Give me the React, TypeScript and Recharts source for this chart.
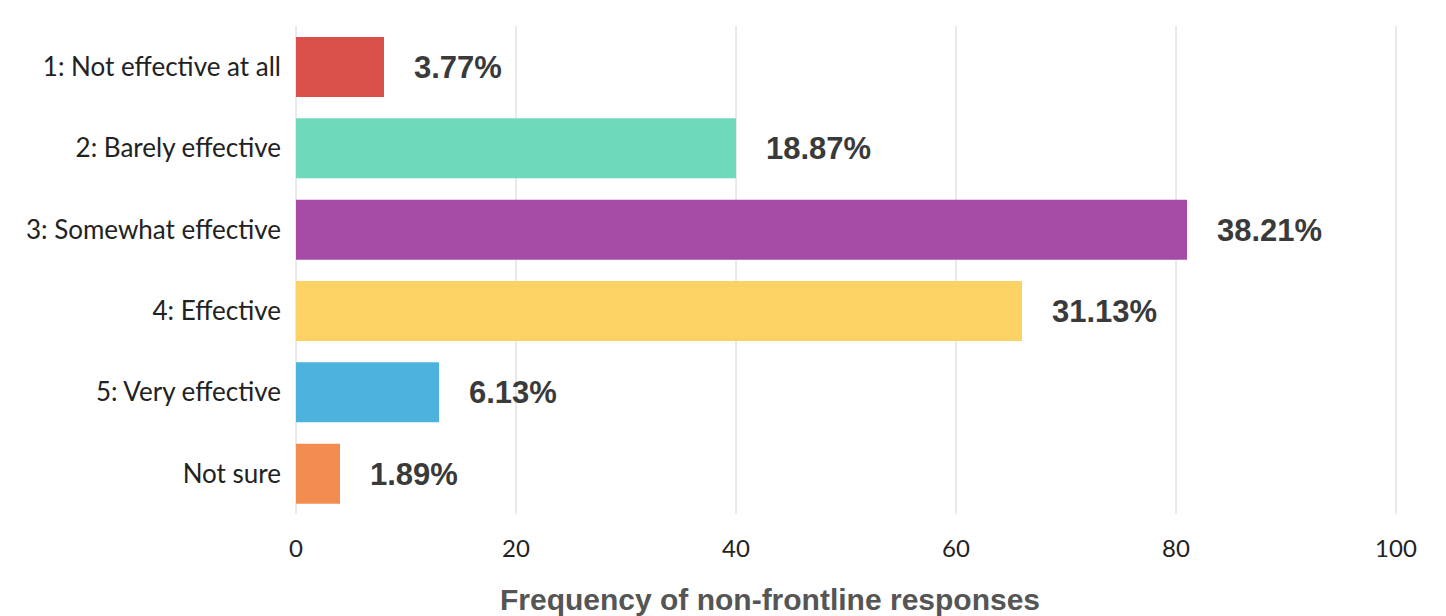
import { Bar, BarChart, CartesianGrid, Cell, LabelList, XAxis, YAxis, Label } from "recharts";

const categories = [
  "1: Not effective at all",
  "2: Barely effective",
  "3: Somewhat effective",
  "4: Effective",
  "5: Very effective",
  "Not sure",
];
const counts = [8, 40, 81, 66, 13, 4];
const percents = ["3.77%", "18.87%", "38.21%", "31.13%", "6.13%", "1.89%"];
const colors = ["#d9504a", "#6fd9bc", "#a64ca6", "#fdd264", "#4db2de", "#f38d4f"];
const xTicks = [0, 20, 40, 60, 80, 100];

const data = categories.map((name, i) => ({
  name,
  count: counts[i],
  pct: percents[i],
}));

const AxisTitle = (props: any) => {
  const { viewBox } = props;
  const x = viewBox.x + viewBox.width / 2 - 76;
  return (
    <text
      x={x}
      y={viewBox.y + 96}
      textAnchor="middle"
      fontFamily="Liberation Sans, Arial, sans-serif"
      fontWeight="bold"
      fontSize={30}
      fill="#555"
    >
      Frequency of non-frontline responses
    </text>
  );
};

export default function App() {
  return (
    <div style={{ position: "absolute", left: 0, top: 0, background: "#fff" }}>
      <BarChart
        width={1446}
        height={616}
        data={data}
        layout="vertical"
        margin={{ top: 26, right: 50, left: 0, bottom: 0 }}
        barSize={60}
      >
        <CartesianGrid horizontal={false} stroke="#d4d4d4" />
        <XAxis
          type="number"
          domain={[0, 100]}
          ticks={xTicks}
          axisLine={false}
          tickLine={false}
          tickSize={0}
          tickMargin={26}
          height={102}
          tick={{ fontFamily: "Lato, sans-serif", fontSize: 24, fill: "#222" }}
        >
          <Label content={<AxisTitle />} />
        </XAxis>
        <YAxis
          type="category"
          dataKey="name"
          width={296}
          axisLine={false}
          tickLine={false}
          tickSize={0}
          tickMargin={15}
          tick={{ fontFamily: "Lato, sans-serif", fontSize: 26, fill: "#222" }}
        />
        <Bar dataKey="count" isAnimationActive={false}>
          {data.map((d, i) => (
            <Cell key={d.name} fill={colors[i]} />
          ))}
          <LabelList
            dataKey="pct"
            position="right"
            offset={30}
            style={{
              fontFamily: "Liberation Sans, Arial, sans-serif",
              fontWeight: "bold",
              fontSize: 31,
              fill: "#3a3a3a",
            }}
          />
        </Bar>
      </BarChart>
    </div>
  );
}
